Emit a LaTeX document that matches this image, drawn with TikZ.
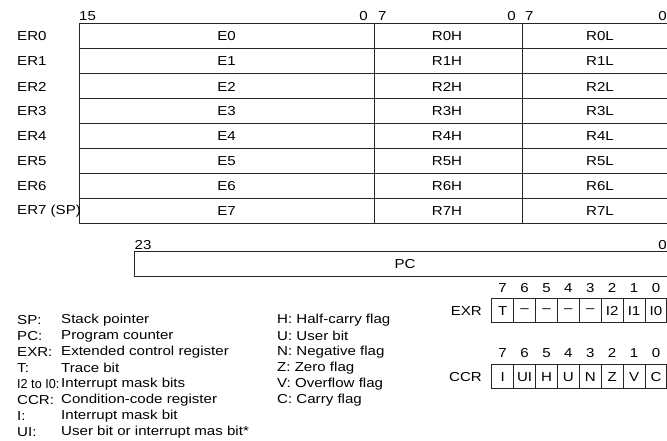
\documentclass[tikz,border=0pt]{standalone}
\usepackage{fontspec}
\setmainfont[FakeStretch=1.16]{Liberation Sans}
\begin{document}
\begin{tikzpicture}[x=1pt,y=-1pt,
  every node/.style={font=\fontsize{13}{15}\selectfont, inner sep=0pt, text=black},
  cell/.style={draw=black!85, line width=0.9pt, rectangle, minimum height=25pt},
  bit/.style={draw=black!85, line width=0.9pt, rectangle, minimum height=24pt, minimum width=21.9pt},
  lbl/.style={anchor=west},
  num/.style={anchor=base}]
\useasboundingbox (0,0) rectangle (667,441);
% general registers
\foreach \i/\lab in {0/ER0,1/ER1,2/ER2,3/ER3,4/ER4,5/ER5,6/ER6,7/ER7 (SP)}{
  \node[cell, minimum width=295pt] (E\i) at (226.5,{35.5+25*\i}) {};
  \node (Et\i) at (226.5,{36.5+25*\i}) {E\i};
  \node[cell, minimum width=148pt] (RH\i) at (448,{35.5+25*\i}) {};
  \node (RHt\i) at (447,{36.5+25*\i}) {R\i H};
  \node[cell, minimum width=156pt] (RL\i) at (600,{35.5+25*\i}) {};
  \node (RLt\i) at (600,{36.5+25*\i}) {R\i L};
  \node[lbl] (ER\i) at (17,{36.5+25*\i}) {\lab};
}
% top bit numbers
\node[anchor=base west] (b15) at (79,21) {15};
\node[anchor=base east] (b0a) at (368,21) {0};
\node[anchor=base west] (b7a) at (378,21) {7};
\node[anchor=base east] (b0b) at (516,21) {0};
\node[anchor=base west] (b7b) at (525,21) {7};
\node[anchor=base east] (b0c) at (667,21) {0};
% PC
\node[cell, minimum width=543.5pt] (PC) at (406.25,263.5) {};
\node (PCt) at (405,264.5) {PC};
\node[anchor=base west] (b23) at (134.5,249) {23};
\node[anchor=base east] (b0d) at (667,249) {0};
% EXR and CCR
\node[anchor=east] (EXR) at (482,311) {EXR};
\node[anchor=east] (CCR) at (482,377) {CCR};
\foreach \j/\e/\c in {0/T/I,1/–/UI,2/–/H,3/–/U,4/–/N,5/I2/Z,6/I1/V,7/I0/C}{
  \pgfmathsetmacro{\xx}{502.65+21.9*\j}
  \pgfmathtruncatemacro{\bn}{7-\j}
  \node[bit] (X\j) at (\xx,310.5) {};
  \node (Xt\j) at (\xx,311) {\e};
  \node[bit] (C\j) at (\xx,376.5) {};
  \node (Ct\j) at (\xx,377) {\c};
  \node[num] (Xb\j) at (\xx,292) {\bn};
  \node[num] (Cb\j) at (\xx,357.5) {\bn};
}
% legend
\foreach \k/\a/\b in {0/SP:/Stack pointer,1/PC:/Program counter,2/EXR:/Extended control register,
  3/T:/Trace bit,5/CCR:/Condition-code register,
  6/I:/Interrupt mask bit,7/UI:/User bit or interrupt mas bit*}{
  \node[lbl] (La\k) at (17,{320+16*\k}) {\a};
  \node[lbl] (Lb\k) at (61,{320+16*\k}) {\b};
}
\node[lbl, xscale=0.84, transform shape] (La4) at (17,384) {I2 to I0:};
\node[lbl] (Lb4) at (61,384) {Interrupt mask bits};
\foreach \k/\a in {0/H: Half-carry flag,1/U: User bit,2/N: Negative flag,3/Z: Zero flag,
  4/V: Overflow flag,5/C: Carry flag}{
  \node[lbl] (Lc\k) at (277,{320+16*\k}) {\a};
}
\end{tikzpicture}
\end{document}
